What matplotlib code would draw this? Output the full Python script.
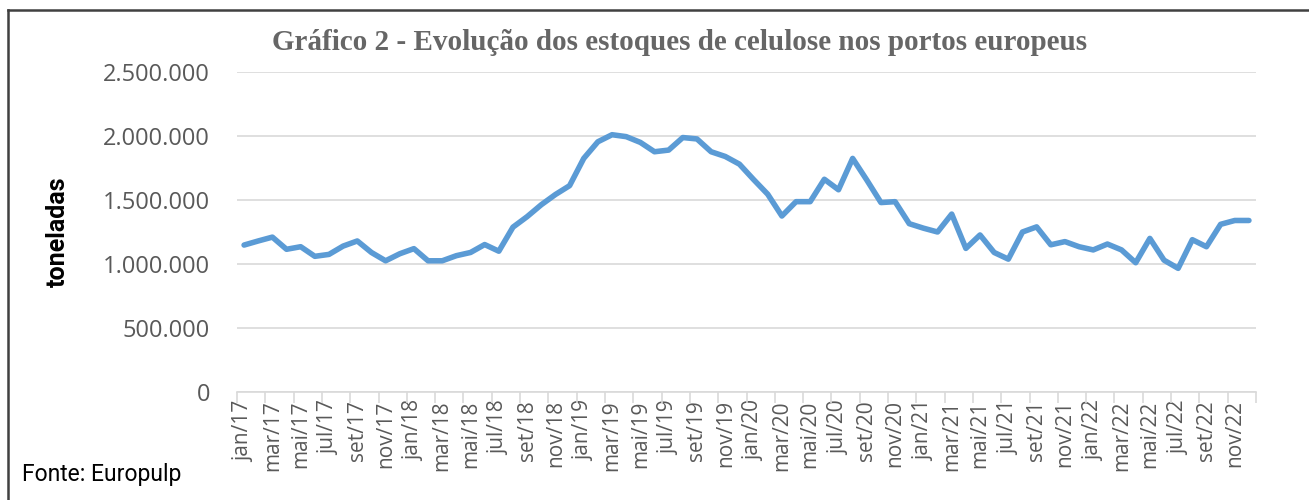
import matplotlib
matplotlib.use("Agg")
import matplotlib.pyplot as plt
from matplotlib.lines import Line2D
from matplotlib.ticker import FuncFormatter

# meses jan/17 .. dez/22
meses_pt = ["jan", "fev", "mar", "abr", "mai", "jun",
            "jul", "ago", "set", "out", "nov", "dez"]
anos = ["17", "18", "19", "20", "21", "22"]
meses = [m + "/" + a for a in anos for m in meses_pt]

# estoques (toneladas)
estoque_2017 = [1148000, 1180000, 1210000, 1115000, 1135000, 1060000,
                1075000, 1140000, 1180000, 1090000, 1025000, 1080000]
estoque_2018 = [1120000, 1025000, 1025000, 1065000, 1090000, 1152000,
                1100000, 1288000, 1370000, 1463000, 1543000, 1612000]
estoque_2019 = [1825000, 1955000, 2010000, 1995000, 1950000, 1877000,
                1890000, 1988000, 1977000, 1877000, 1840000, 1780000]
estoque_2020 = [1660000, 1545000, 1375000, 1487000, 1487000, 1662000,
                1580000, 1825000, 1656000, 1480000, 1487000, 1315000]
estoque_2021 = [1280000, 1250000, 1390000, 1122000, 1227000, 1090000,
                1038000, 1250000, 1290000, 1150000, 1175000, 1135000]
estoque_2022 = [1110000, 1156000, 1110000, 1010000, 1200000, 1030000,
                966000, 1190000, 1135000, 1310000, 1340000, 1340000]
estoques = (estoque_2017 + estoque_2018 + estoque_2019 +
            estoque_2020 + estoque_2021 + estoque_2022)

yticks = [0, 500000, 1000000, 1500000, 2000000, 2500000]

cinza = "#595959"
fig = plt.figure(figsize=(13.09, 5.0), dpi=100)
ax = fig.add_axes([237 / 1309, 1 - 392 / 500, (1256 - 237) / 1309, 320 / 500])

x = list(range(len(estoques)))
ax.plot(x, estoques, color="#5B9BD5", linewidth=4,
        solid_joinstyle="round", solid_capstyle="round", zorder=3)

ax.set_xlim(-0.5, len(estoques) - 0.5)
ax.set_ylim(0, 2500000)

# eixo y
ax.set_yticks(yticks)
ax.yaxis.set_major_formatter(FuncFormatter(lambda v, p: f"{int(v):,}".replace(",", ".")))
ax.tick_params(axis="y", length=0, pad=19.5, labelsize=17, labelcolor=cinza)
for t in ax.get_yticklabels():
    t.set_fontfamily("Open Sans")
ax.grid(axis="y", color="#d9d9d9", linewidth=1.2)
ax.set_axisbelow(True)

# eixo x: rotulos a cada 2 meses, marcas entre categorias
ax.set_xticks(x[::2])
ax.set_xticklabels(meses[::2], rotation=90, fontsize=15, color=cinza,
                   fontfamily="Open Sans")
ax.tick_params(axis="x", length=0, pad=6)
ax.set_xticks([i - 0.5 for i in range(0, len(estoques) + 1, 2)], minor=True)
ax.tick_params(axis="x", which="minor", length=8, color="#d9d9d9", width=1.2)

for s in ["top", "right", "left"]:
    ax.spines[s].set_visible(False)
ax.spines["bottom"].set_color("#d9d9d9")
ax.spines["bottom"].set_linewidth(1.2)

ax.set_ylabel("toneladas", fontsize=18, fontweight="bold", color="black",
              fontfamily="Roboto")
ax.yaxis.set_label_coords((70 - 237) / 1019, 0.5)

fig.text(680 / 1309, 1 - 43 / 500,
         "Gráfico 2 - Evolução dos estoques de celulose nos portos europeus",
         ha="center", va="center", fontsize=21, fontweight="bold",
         color="#666666", fontfamily="Liberation Serif")
fig.text(22 / 1309, 1 - 475 / 500, "Fonte: Europulp", ha="left", va="center",
         fontsize=16.5, color="black", fontfamily="Roboto")

# moldura
fig.add_artist(Line2D([8 / 1309, 1], [1 - 10 / 500, 1 - 10 / 500],
                      transform=fig.transFigure, color="#404040", linewidth=1.8))
fig.add_artist(Line2D([8 / 1309, 8 / 1309], [0, 1 - 10 / 500],
                      transform=fig.transFigure, color="#404040", linewidth=1.8))

fig.savefig("out.png", dpi=100)
